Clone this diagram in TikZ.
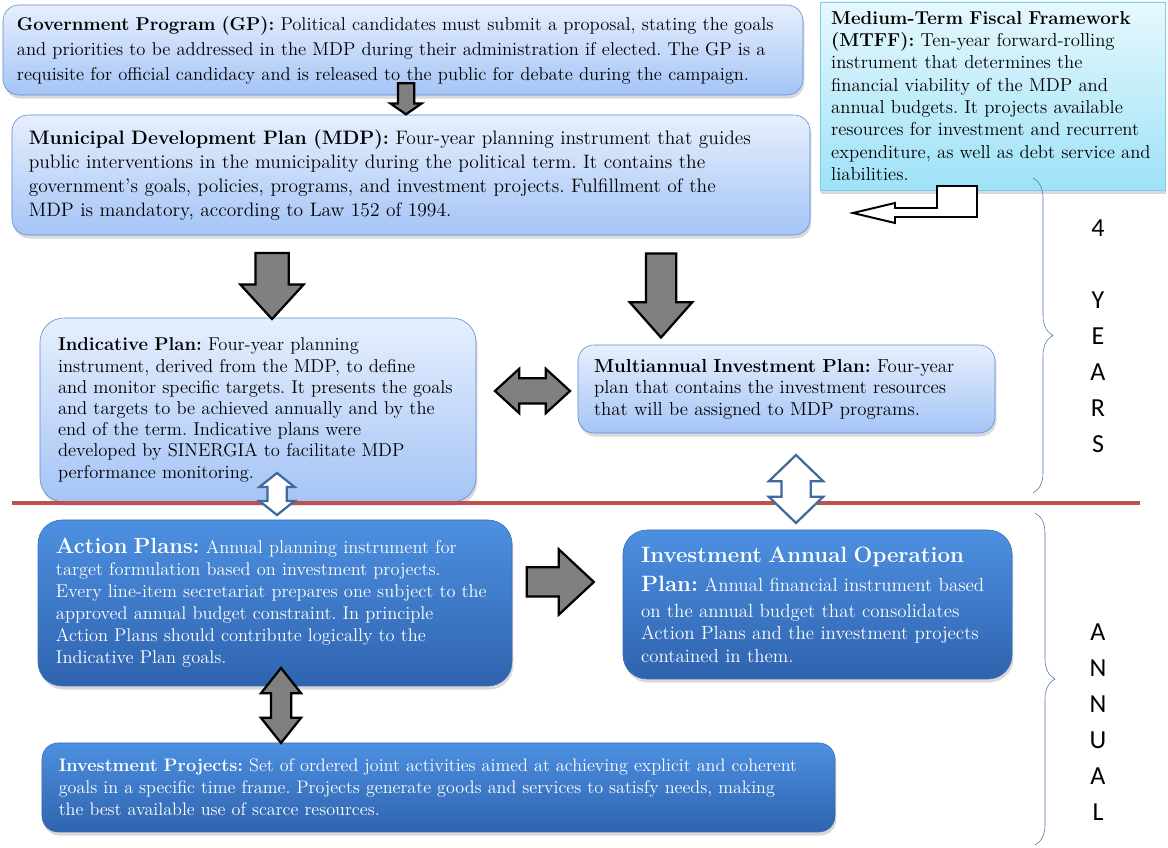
\documentclass[tikz,border=0pt]{standalone}
\usepackage{fontspec}
\setsansfont{Carlito}
\usetikzlibrary{shadows}
\usetikzlibrary{positioning}
\usetikzlibrary{shapes,shapes.arrows}
\usetikzlibrary{decorations.pathreplacing}
\definecolor{lighttop}{HTML}{E6EFFD}
\definecolor{lightbot}{HTML}{A5C4F6}
\definecolor{lightedge}{HTML}{5B8BD0}
\definecolor{cyantop}{HTML}{E6F8FD}
\definecolor{cyanbot}{HTML}{9EE2F7}
\definecolor{cyanedge}{HTML}{7CCDE8}
\definecolor{darktop}{HTML}{4D90E1}
\definecolor{darkbot}{HTML}{2F63AE}
\definecolor{darkedge}{HTML}{3A6DB5}
\definecolor{arrowgray}{HTML}{808080}
\definecolor{outlineblue}{HTML}{41699C}
\definecolor{splitred}{HTML}{C0504D}
\definecolor{bracecol}{HTML}{4A74A8}
\tikzstyle{planbox}=[draw=lightedge,rounded corners=0.4cm,top color=lighttop,bottom color=lightbot,align=left,inner ysep=2pt,drop shadow={opacity=0.3,shadow xshift=1pt,shadow yshift=-2.5pt}]
\tikzstyle{annualbox}=[planbox,draw=darkedge,top color=darktop,bottom color=darkbot,text=white,rounded corners=0.6cm]
\tikzstyle{framebox}=[planbox,rounded corners=0pt,draw=cyanedge,top color=cyantop,bottom color=cyanbot]
\tikzstyle{grayarrow}=[single arrow,draw=black,fill=arrowgray,line width=1.6pt,inner xsep=0pt]
\tikzstyle{graydouble}=[double arrow,draw=black,fill=arrowgray,line width=1.6pt,inner xsep=0pt]
\tikzstyle{bluedouble}=[double arrow,draw=outlineblue,fill=white,line width=1.6pt,inner xsep=0pt]
\tikzstyle{spanlabel}=[font=\sffamily\fontsize{18.5}{25.6}\selectfont,align=center]

\begin{document}
\frenchspacing
\begin{tikzpicture}[x=1cm,y=1cm]
\useasboundingbox (0,0) rectangle (29.2,-21.2);

% four-year level
\node[planbox,minimum width=20cm,minimum height=2.25cm,inner xsep=0.35cm,text width=19.3cm,font=\fontsize{13.2}{17.8}\selectfont] (gp) at (10.075,-1.25) {\textbf{Government Program (GP):} Political candidates must submit a proposal, stating the goals\\ and priorities to be addressed in the MDP during their administration if elected. The GP is a\\ requisite for official candidacy and is released to the public for debate during the campaign.};

\node[planbox,minimum width=19.95cm,minimum height=3cm,inner xsep=0.42cm,text width=19.11cm,font=\fontsize{13.85}{17}\selectfont] (mdp) at (10.275,-4.375) {\textbf{Municipal Development Plan (MDP):} Four-year planning instrument that guides\\ public interventions in the municipality during the political term. It contains the\\ government's goals, policies, programs, and investment projects. Fulfillment of the\\ MDP is mandatory, according to Law 152 of 1994.};

\node[framebox,minimum width=8.625cm,minimum height=4.7cm,inner xsep=0.28cm,text width=8.065cm,font=\fontsize{13.3}{15.9}\selectfont] (mtff) at (24.8125,-2.4) {\textbf{Medium-Term Fiscal Framework}\\ \textbf{(MTFF):} Ten-year forward-rolling\\ instrument that determines the\\ financial viability of the MDP and\\ annual budgets. It projects available\\ resources for investment and recurrent\\ expenditure, as well as debt service and\\ liabilities.};

\node[planbox,rounded corners=0.6cm,minimum width=10.9cm,minimum height=4.6cm,inner xsep=0.45cm,text width=10cm,font=\fontsize{13.2}{15.1}\selectfont] (ip) at (6.45,-10.25) {\textbf{Indicative Plan:} Four-year planning\\ instrument, derived from the MDP, to define\\ and monitor specific targets. It presents the goals\\ and targets to be achieved annually and by the\\ end of the term.  Indicative plans were\\ developed by SINERGIA to facilitate MDP\\ performance monitoring.};

\node[planbox,minimum width=10.425cm,minimum height=2.2cm,inner xsep=0.4cm,text width=9.625cm,font=\fontsize{13.4}{15.3}\selectfont] (mip) at (19.6625,-9.725) {\textbf{Multiannual Investment Plan:} Four-year\\ plan that contains the investment resources\\ that will be assigned to MDP programs.};

% annual level
\node[annualbox,minimum width=11.85cm,minimum height=4.15cm,inner xsep=0.45cm,text width=10.95cm,font=\fontsize{13.1}{15.6}\selectfont] (ap) at (6.875,-15.075) {{\fontsize{15.6}{18}\selectfont\textbf{Action Plans:}} Annual planning instrument for\\ target formulation based on investment projects.\\ Every line-item secretariat prepares one subject to the\\ approved annual budget constraint. In principle\\ Action Plans should contribute logically to the\\ Indicative Plan goals.};

\node[annualbox,minimum width=9.725cm,minimum height=3.725cm,inner xsep=0.45cm,text width=8.825cm,font=\fontsize{13.5}{16}\selectfont] (iaop) at (20.4375,-15.1125) {{\fontsize{15.8}{19}\selectfont\textbf{Investment Annual Operation}}\\[5pt] {\fontsize{15.8}{19}\selectfont\textbf{Plan:}} Annual financial instrument based\\[2pt] on the annual budget that consolidates\\ Action Plans and the investment projects\\ contained in them.};

\node[annualbox,rounded corners=0.4cm,minimum width=19.825cm,minimum height=2.225cm,inner xsep=0.42cm,text width=18.985cm,font=\fontsize{12.9}{15.6}\selectfont] (proj) at (10.9625,-19.6875) {\textbf{Investment Projects:} Set of ordered joint activities aimed at achieving explicit and coherent\\ goals in a specific time frame. Projects generate goods and services to satisfy needs, making\\ the best available use of scarce resources.};

% split between the two levels
\draw[splitred,line width=2.2pt] (0.3,-12.575) -- (28.5,-12.575);

% block arrows
\foreach \pos/\rot/\len/\shaft/\ext/\ang/\name in {{(10.15,-2.4)/-90/0.775/0.175/0.1875/110/gpmdp}, {(6.8,-6.925)/-90/1.65/0.3875/0.375/85/mdpip}, {(16.525,-7.175)/-90/2.1/0.35/0.4/83/mdpmip}, {(13.8125,-14.55)/0/1.675/0.3375/0.45/86/apiaop}}
    \node[grayarrow,rotate=\rot,minimum height=\len cm,inner ysep=\shaft cm,single arrow head extend=\ext cm,single arrow tip angle=\ang] (\name) at \pos {};

\node[graydouble,minimum height=1.875cm,inner ysep=0.2875cm,double arrow head extend=0.2375cm,double arrow tip angle=85] (ipmip) at (13.3125,-9.775) {};
\node[graydouble,rotate=90,minimum height=1.875cm,inner ysep=0.225cm,double arrow head extend=0.25cm,double arrow tip angle=77] (approj) at (7.025,-17.6375) {};
\node[bluedouble,rotate=90,minimum height=1.05cm,inner ysep=0.2125cm,double arrow head extend=0.2cm,double arrow tip angle=103] (ipap) at (6.925,-12.35) {};
\node[bluedouble,rotate=90,minimum height=1.7cm,inner ysep=0.3375cm,double arrow head extend=0.3125cm,double arrow tip angle=92] (mipiaop) at (19.9,-12.225) {};

% bent arrow from the MTFF
\draw[fill=white,draw=black,line width=1.4pt] (21.325,-5.325) -- (22.375,-5.075) -- (22.375,-5.2) -- (23.425,-5.2) -- (23.425,-4.65) -- (24.425,-4.65) -- (24.425,-5.425) -- (22.375,-5.425) -- (22.375,-5.575) -- cycle;

% time spans
\draw[bracecol,thin,decorate,decoration={brace,amplitude=0.5cm}] (25.825,-4.45) -- (25.825,-12.325);
\draw[bracecol,thin,decorate,decoration={brace,amplitude=0.5cm}] (25.875,-12.825) -- (25.875,-21.125);
\node[spanlabel] (years) at (27.45,-8.41) {4\\[25.6pt]Y\\E\\A\\R\\S};
\node[spanlabel] (annual) at (27.45,-18.06) {A\\N\\N\\U\\A\\L};

\end{tikzpicture}
\end{document}
